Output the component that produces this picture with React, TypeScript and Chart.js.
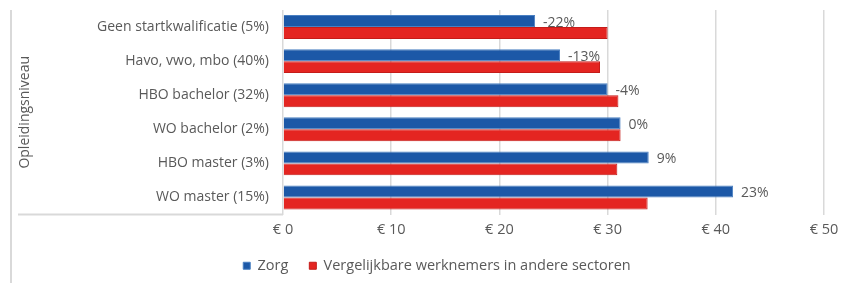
import React, { useEffect, useRef } from "react";
import { Chart, registerables } from "chart.js";

Chart.register(...registerables);

const categories = [
  "Geen startkwalificatie (5%)",
  "Havo, vwo, mbo (40%)",
  "HBO bachelor (32%)",
  "WO bachelor (2%)",
  "HBO master (3%)",
  "WO master (15%)",
];
const zorg = [23.3, 25.6, 30.0, 31.2, 33.8, 41.6];
const andere = [30.0, 29.3, 31.0, 31.2, 30.9, 33.7];
const verschil = ["-22%", "-13%", "-4%", "0%", "9%", "23%"];
const seriesNames = ["Zorg", "Vergelijkbare werknemers in andere sectoren"];
const axisTitle = "Opleidingsniveau";

const FONT = "'Open Sans', sans-serif";
const TEXT = "#595959";

const decoPlugin = {
  id: "deco",
  beforeDraw(chart: any) {
    const { ctx, chartArea } = chart;
    ctx.save();
    ctx.strokeStyle = "#d9d9d9";
    ctx.lineWidth = 2;
    ctx.beginPath();
    ctx.moveTo(11, 10);
    ctx.lineTo(11, chart.height);
    ctx.stroke();
    ctx.beginPath();
    ctx.moveTo(18, chartArea.bottom);
    ctx.lineTo(chartArea.left, chartArea.bottom);
    ctx.stroke();
    ctx.fillStyle = TEXT;
    ctx.font = `14px ${FONT}`;
    ctx.textAlign = "center";
    ctx.textBaseline = "middle";
    ctx.translate(25, (chartArea.top + chartArea.bottom) / 2);
    ctx.rotate(-Math.PI / 2);
    ctx.fillText(axisTitle, 0, 0);
    ctx.restore();
  },
  afterDatasetsDraw(chart: any) {
    const { ctx } = chart;
    const meta = chart.getDatasetMeta(0);
    ctx.save();
    ctx.fillStyle = TEXT;
    ctx.font = `14px ${FONT}`;
    ctx.textAlign = "left";
    ctx.textBaseline = "middle";
    meta.data.forEach((bar: any, i: number) => {
      ctx.fillText(verschil[i], bar.x + 8, bar.y + 1.5);
    });
    ctx.restore();
  },
};

export default function App() {
  const ref = useRef<HTMLCanvasElement>(null);
  useEffect(() => {
    const chart = new Chart(ref.current!, {
      type: "bar",
      data: {
        labels: categories,
        datasets: [
          {
            label: seriesNames[0],
            data: zorg,
            backgroundColor: "#1c58a7",
            borderColor: "#4a80c2",
            borderWidth: 1,
            barPercentage: 1,
            categoryPercentage: 0.7,
          },
          {
            label: seriesNames[1],
            data: andere,
            backgroundColor: "#e42521",
            borderColor: "#c41c19",
            borderWidth: 1,
            barPercentage: 1,
            categoryPercentage: 0.7,
          },
        ],
      },
      options: {
        indexAxis: "y",
        responsive: false,
        devicePixelRatio: 1,
        animation: false,
        layout: { padding: { top: 10, right: 25, bottom: 0, left: 50 } },
        plugins: {
          tooltip: { enabled: false },
          legend: {
            position: "bottom",
            labels: {
              boxWidth: 7,
              boxHeight: 7,
              padding: 21,
              color: TEXT,
              font: { family: FONT, size: 14.5 },
            },
          },
        },
        scales: {
          x: {
            min: 0,
            max: 50,
            afterFit: (s: any) => {
              s.height = 23;
            },
            ticks: {
              stepSize: 10,
              color: TEXT,
              padding: 7,
              font: { family: FONT, size: 14.5 },
              callback: (v: any) => "€ " + v,
            },
            grid: { color: "#d9d9d9", lineWidth: 1.5, drawTicks: false },
            border: { display: false },
          },
          y: {
            afterFit: (s: any) => {
              s.width = 233;
              s.paddingTop = 0;
              s.paddingBottom = 0;
            },
            ticks: {
              color: TEXT,
              padding: 14,
              font: { family: FONT, size: 14 },
            },
            grid: { display: false, drawTicks: false },
            border: { display: false },
          },
        },
      },
      plugins: [decoPlugin],
    });
    return () => chart.destroy();
  }, []);
  return (
    <div style={{ position: "fixed", left: 0, top: 0, width: 849, height: 283, background: "#fff" }}>
      <canvas ref={ref} width={849} height={283} />
    </div>
  );
}
